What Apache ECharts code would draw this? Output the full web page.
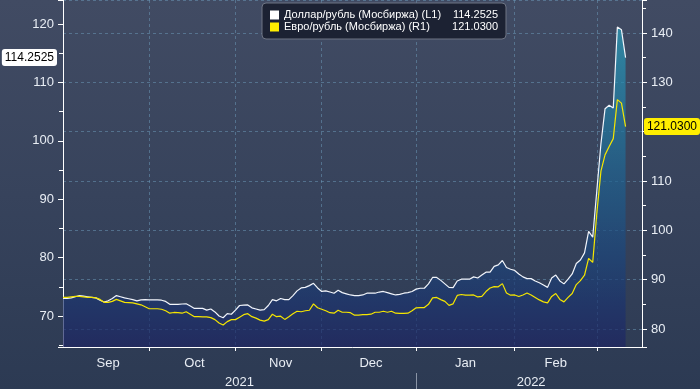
<!DOCTYPE html>
<html><head><meta charset="utf-8">
<script src="https://cdn.jsdelivr.net/npm/echarts@6/dist/echarts.min.js"></script>
<style>
html,body{margin:0;padding:0;width:700px;height:389px;overflow:hidden;background:linear-gradient(to bottom,#414b63 0%,#37435c 50%,#2c3a53 100%);}
#chart{width:700px;height:389px;}
</style></head><body><div id="chart"></div>
<script>
// ---- data ----
const monthNames = ['Sep','Oct','Nov','Dec','Jan','Feb','Mar'];
const pointsPerMonth = [21,21,21,23,24,20,8];
const monthTickLabels = ['Sep','Oct','Nov','Dec','Jan','Feb'];
const yearLabels = ['2021','2022'];
const monthsPerYear = [4,3];
const axisPadding = 4;
const seriesNames = ['Доллар/рубль (Мосбиржа) (L1)','Евро/рубль (Мосбиржа) (R1)'];
const usdRub = [73.0,73.0,73.1,73.3,73.5,73.4,73.3,73.2,73.1,72.7,
72.4,72.6,73.0,73.5,73.3,73.1,72.95,72.8,72.6,72.75,
72.8,72.75,72.75,72.75,72.7,72.5,72.0,72.0,72.0,72.05,
72.1,71.7,71.3,71.3,71.3,71.0,71.2,70.7,70.0,69.7,
70.4,70.3,71.0,71.8,71.85,71.9,71.4,71.2,71.0,71.1,
71.8,72.8,72.6,73.0,72.8,72.8,73.5,74.3,74.8,74.9,
75.2,75.6,74.8,74.2,74.3,74.1,73.9,74.4,74.0,73.8,
73.6,73.5,73.5,73.6,73.9,73.9,73.9,74.1,74.2,74.0,
73.8,73.6,73.7,73.9,74.0,74.2,74.6,74.75,74.75,75.5,
76.6,76.6,76.1,75.5,74.9,74.85,76.0,76.3,76.3,76.3,
76.7,76.5,77.0,77.5,77.5,78.5,78.75,79.5,78.3,78.0,
77.8,77.2,76.7,76.4,76.4,76.0,75.7,75.3,74.9,76.5,
77.0,76.0,75.5,76.3,77.2,79.0,79.6,80.8,84.5,83.5,
91.5,99.5,105.5,106.1,105.6,119.5,119.0,114.2525];
const eurRub = [86.4,86.4,86.5,86.6,86.6,86.5,86.4,86.4,86.3,86.0,
85.4,85.4,85.6,86.0,85.7,85.4,85.35,85.3,85.1,84.9,
84.5,84.1,84.1,84.1,84.0,83.7,83.2,83.35,83.3,83.2,
83.5,83.0,82.5,82.5,82.45,82.45,82.3,81.9,81.2,80.8,
81.5,81.9,81.9,82.4,82.9,83.1,82.5,82.2,81.8,81.6,
81.9,83.0,82.5,82.6,81.95,82.5,83.1,83.6,83.5,83.7,
83.8,85.1,84.3,84.0,83.7,83.3,83.2,83.8,83.4,83.4,
83.3,82.8,82.8,82.9,82.9,83.0,83.4,83.4,83.6,83.4,
83.6,83.2,83.15,83.15,83.2,83.7,84.3,84.35,84.35,85.0,
86.3,86.4,85.95,85.6,84.8,85.1,86.8,87.0,86.85,86.85,
86.9,86.5,86.6,87.6,88.3,88.6,88.55,89.2,87.3,86.85,
86.9,86.6,86.9,87.3,86.9,86.4,85.9,85.5,85.3,86.6,
87.2,86.0,85.5,86.4,87.2,89.0,89.8,90.9,94.3,93.5,
103.5,112.0,115.3,117.0,118.6,126.5,125.8,121.03];

// ---- build category axis ----
const categories = [];
const monthStarts = [];
pointsPerMonth.forEach((n, m) => {
  monthStarts.push(categories.length);
  for (let j = 0; j < n; j++) categories.push(monthNames[m] + ' ' + (j + 1));
});
for (let j = 0; j < axisPadding; j++) categories.push('');
const lastIdx = categories.length - 1;
const boundaries = new Set(monthStarts.slice(1));
const monthLabelAt = {};
monthTickLabels.forEach((lab, m) => {
  monthLabelAt[Math.round(monthStarts[m] + pointsPerMonth[m] / 2)] = lab;
});
const yearLabelAt = {};
const yearBoundary = monthStarts[monthsPerYear[0]];
yearLabelAt[Math.round(yearBoundary / 2)] = yearLabels[0];
yearLabelAt[Math.round((yearBoundary + lastIdx) / 2)] = yearLabels[1];

const FONT = "'Liberation Sans', Arial, sans-serif";
const gridLine = { color: 'rgba(105,150,180,0.55)', type: [3, 3], width: 1 };
const usdLast = usdRub[usdRub.length - 1];
const eurLast = eurRub[eurRub.length - 1];
const lastVals = [usdLast.toFixed(4), eurLast.toFixed(4)];

const chart = echarts.init(document.getElementById('chart'), null, { renderer: 'canvas' });
chart.setOption({
  animation: false,
  backgroundColor: 'transparent',
  textStyle: { fontFamily: FONT },
  grid: { left: 63, right: 58, top: 0, bottom: 42, containLabel: false, outerBoundsMode: 'none' },
  legend: {
    left: 262, top: 3, orient: 'vertical', icon: 'rect',
    itemWidth: 9, itemHeight: 9, itemGap: 0,
    padding: [6, 8, 6, 8],
    backgroundColor: '#1c2233', borderColor: '#6e7584', borderWidth: 1, borderRadius: 4,
    selectedMode: false,
    data: seriesNames,
    formatter: name => '{n|' + name + '}{v|' + lastVals[seriesNames.indexOf(name)] + '}',
    textStyle: {
      color: '#ffffff', fontSize: 11, fontFamily: FONT, lineHeight: 12,
      rich: {
        n: { width: 158, color: '#ffffff', fontSize: 11, fontFamily: FONT, lineHeight: 12 },
        v: { width: 56, align: 'right', color: '#ffffff', fontSize: 11, fontFamily: FONT, lineHeight: 12 }
      }
    }
  },
  xAxis: [{
    type: 'category', data: categories, boundaryGap: false, position: 'bottom',
    axisLine: { show: true, lineStyle: { color: '#ffffff', width: 1 } },
    axisTick: { show: true, length: 4, interval: i => boundaries.has(i), lineStyle: { color: '#ffffff' } },
    axisLabel: { show: true, interval: i => monthLabelAt[i] !== undefined, formatter: (v, i) => monthLabelAt[i] || '',
      color: '#e8edf4', fontSize: 13, margin: 10, fontFamily: FONT },
    splitLine: { show: true, interval: i => boundaries.has(i), lineStyle: gridLine }
  }, {
    type: 'category', data: categories, boundaryGap: false, position: 'bottom', offset: 26,
    axisLine: { show: false },
    axisTick: { show: true, length: 17, interval: i => i === yearBoundary, lineStyle: { color: '#8a94a6' } },
    axisLabel: { show: true, interval: i => yearLabelAt[i] !== undefined, formatter: (v, i) => yearLabelAt[i] || '',
      color: '#e8edf4', fontSize: 13, margin: 3, fontFamily: FONT },
    splitLine: { show: false }
  }],
  yAxis: [{
    type: 'value', position: 'left', min: 64.69, max: 124.11, splitNumber: 5, scale: true,
    axisLine: { show: true, lineStyle: { color: '#ffffff', width: 1 } },
    axisTick: { show: true, length: 5, lineStyle: { color: '#ffffff' } },
    minorTick: { show: true, splitNumber: 2, length: 4, lineStyle: { color: '#ffffff' } },
    axisLabel: { color: '#e8edf4', fontSize: 13, margin: 9, showMinLabel: false, showMaxLabel: false, fontFamily: FONT },
    splitLine: { show: false },
    axisPointer: {
      show: true, status: 'show', value: usdLast, triggerTooltip: false, triggerEmphasis: false,
      lineStyle: { color: 'rgba(0,0,0,0)', width: 0 },
      label: { show: true, formatter: () => lastVals[0], backgroundColor: '#ffffff', color: '#000000',
        padding: [3, 3, 2, 3], fontSize: 12, fontFamily: FONT, margin: 6, shadowBlur: 0 }
    }
  }, {
    type: 'value', position: 'right', min: 76.35, max: 146.7, splitNumber: 5, scale: true,
    axisLine: { show: true, lineStyle: { color: '#ffffff', width: 1 } },
    axisTick: { show: true, length: 5, lineStyle: { color: '#ffffff' } },
    minorTick: { show: true, splitNumber: 2, length: 4, lineStyle: { color: '#ffffff' } },
    axisLabel: { color: '#e8edf4', fontSize: 13, margin: 9, showMinLabel: false, showMaxLabel: false, fontFamily: FONT },
    splitLine: { show: true, lineStyle: gridLine },
    axisPointer: {
      show: true, status: 'show', value: eurLast, triggerTooltip: false, triggerEmphasis: false,
      lineStyle: { color: 'rgba(0,0,0,0)', width: 0 },
      label: { show: true, formatter: () => lastVals[1], backgroundColor: '#ffee00', color: '#000000',
        padding: [3, 3, 2, 3], fontSize: 12, fontFamily: FONT, margin: 8, shadowBlur: 0 }
    }
  }],
  axisPointer: { triggerOn: 'none' },
  series: [{
    name: seriesNames[0], type: 'line', xAxisIndex: 0, yAxisIndex: 0,
    data: usdRub, showSymbol: false, symbol: 'none',
    itemStyle: { color: '#ffffff' },
    lineStyle: { color: '#f2f5fb', width: 1.2 },
    areaStyle: {
      origin: 'start',
      color: { type: 'linear', x: 0, y: 0, x2: 0, y2: 1, colorStops: [
        { offset: 0, color: '#2aa2bf' },
        { offset: 0.45, color: '#1f6592' },
        { offset: 0.8, color: '#1c3c74' },
        { offset: 1, color: '#1d2463' }
      ] }
    },
    z: 2
  }, {
    name: seriesNames[1], type: 'line', xAxisIndex: 0, yAxisIndex: 1,
    data: eurRub, showSymbol: false, symbol: 'none',
    itemStyle: { color: '#ffee00' },
    lineStyle: { color: '#f5e600', width: 1.2 },
    z: 3
  }]
});
</script>
</body></html>
